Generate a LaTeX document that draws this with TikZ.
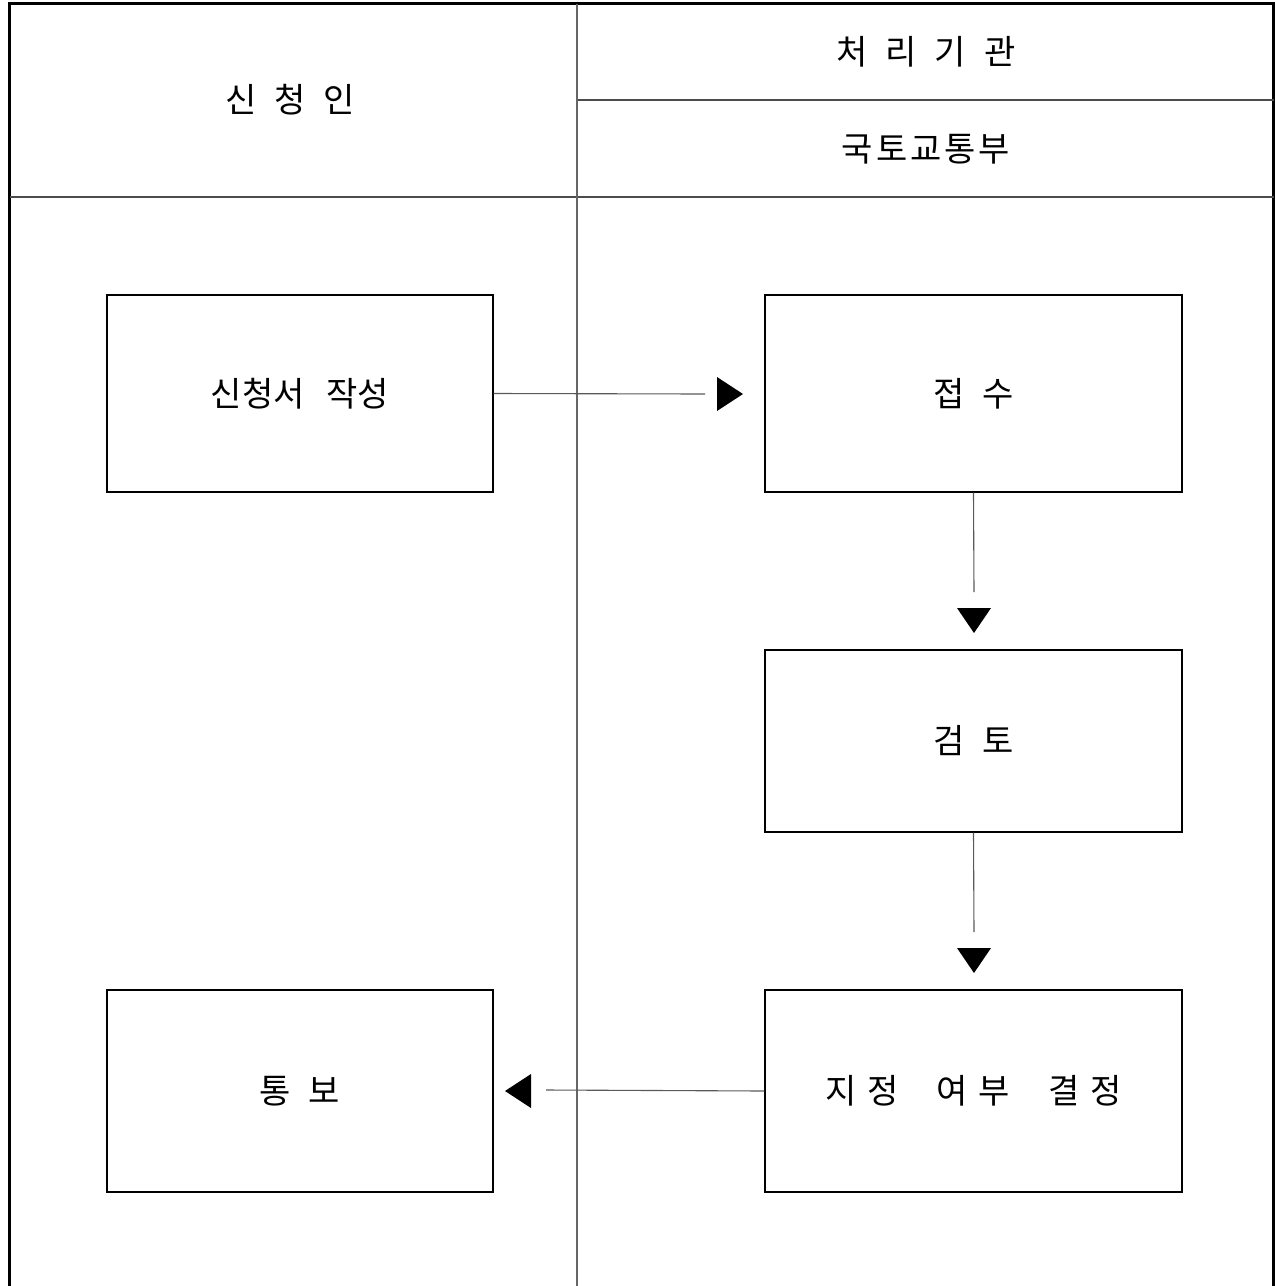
\documentclass[tikz,border=0pt]{standalone}
\usepackage{fontspec}
\setmainfont{Noto Sans CJK KR}
\newcommand\gp{\hspace{18pt}}
\newcommand\tg{\hspace{3pt}}
\begin{document}
\begin{tikzpicture}[x=1pt,y=-1pt,
  lbl/.style={font=\fontsize{34}{40}\selectfont, inner sep=0pt},
  box/.style={draw=black, line width=1.3pt, minimum width=386pt, minimum height=197pt, inner sep=0pt, font=\fontsize{34}{40}\selectfont},
  frame/.style={line width=3.5pt, black},
  rule/.style={line width=1.5pt, black!70},
  conn/.style={line width=1.1pt, black!65},
  tip/.style={fill=black}]
\useasboundingbox (0,0) rectangle (1275,1286);
% frame
\draw[frame] (9.5,1290) -- (9.5,3.5) -- (1273.5,3.5) -- (1273.5,1290);
\draw[rule] (9.5,197) -- (1273.5,197);
\draw[rule] (577,100) -- (1273.5,100);
\draw[rule, black!60] (577,3.5) -- (577,1290);
% headers
\node[lbl] (h1) at (290,100) {신\gp 청\gp 인};
\node[lbl] (h2) at (926,52) {처\gp 리\gp 기\gp 관};
\node[lbl] (h3) at (926,149) {국\tg 토\tg 교\tg 통\tg 부};
% boxes
\node[box] (a) at (300,393.5) {신청서\hspace{22pt}작성};
\node[box, minimum width=417pt] (b) at (973.5,393.5) {접\gp 수};
\node[box, minimum width=417pt, minimum height=182pt] (c) at (973.5,741) {검\gp 토};
\node[box, minimum width=417pt, minimum height=202pt] (d) at (973.5,1091) {지\hspace{11pt}정\hspace{38pt}여\hspace{11pt}부\hspace{38pt}결\hspace{11pt}정};
\node[box, minimum height=202pt] (e) at (300,1091) {통\gp 보};
% connectors
\coordinate (ab) at (705,394);
\coordinate (bc) at (974,592);
\coordinate (cd) at (974,932);
\coordinate (de) at (546,1090);
\draw[conn] (a.east) -- (ab);
\fill[tip] (717,377) -- (743,394) -- (717,411) -- cycle;
\draw[conn] (b.south) -- (bc);
\fill[tip] (957,608) -- (991,608) -- (974,633) -- cycle;
\draw[conn] (c.south) -- (cd);
\fill[tip] (957,948) -- (991,948) -- (974,973) -- cycle;
\draw[conn] (d.west) -- (de);
\fill[tip] (531,1074) -- (505,1091) -- (531,1108) -- cycle;
\end{tikzpicture}
\end{document}
